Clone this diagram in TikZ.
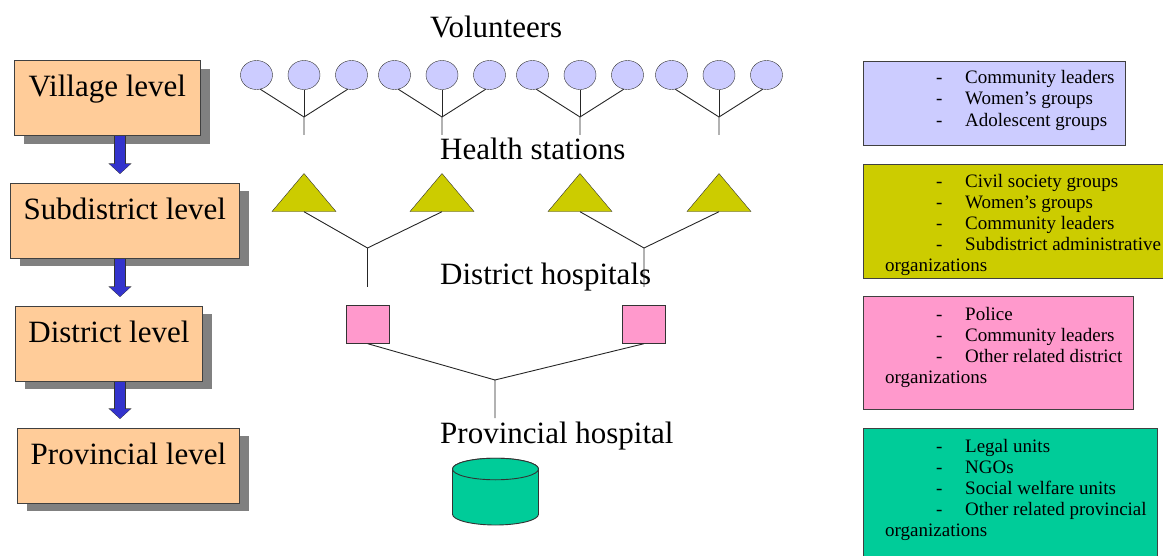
\documentclass[tikz,border=0pt]{standalone}
\usepackage{fontspec}
\setmainfont{Liberation Serif}
\usetikzlibrary{shapes.geometric,shadows,arrows.meta,positioning}
\definecolor{levelpeach}{RGB}{255,204,153}
\definecolor{volblue}{RGB}{204,204,255}
\definecolor{stationolive}{RGB}{204,204,0}
\definecolor{districtpink}{RGB}{255,153,204}
\definecolor{provgreen}{RGB}{0,204,153}
\definecolor{flowblue}{RGB}{51,51,204}
\definecolor{shadowgray}{RGB}{128,128,128}
\newcommand{\dashitem}[1]{\makebox[80pt][l]{\hspace{51pt}-}#1}

\begin{document}
\begin{tikzpicture}[x=1pt,y=-1pt,
	level/.style={rectangle,draw=black!75,fill=levelpeach,line width=0.8pt,anchor=north west,minimum height=75pt,inner sep=0pt,text height=36pt,text depth=39pt,font=\fontsize{31}{36}\selectfont,drop shadow={shadow xshift=10pt,shadow yshift=-8pt,fill=shadowgray,opacity=1}},
	flow/.style={draw=flowblue,line width=10pt,-{Triangle[length=9.5pt,width=20pt]},shorten >=9.5pt,
		preaction={draw=black!80,line width=11.6pt,-{Triangle[length=10.6pt,width=22.4pt]},shorten >=9pt}},
	tier/.style={anchor=base west,inner sep=0pt,font=\fontsize{31}{36}\selectfont},
	vol/.style={ellipse,draw=black!80,fill=volblue,minimum width=32pt,minimum height=29pt,inner sep=0pt},
	station/.style={isosceles triangle,shape border rotate=90,isosceles triangle stretches,minimum width=64pt,minimum height=38pt,inner sep=0pt,draw=black!80,fill=stationolive,anchor=apex},
	hosp/.style={rectangle,draw=black!80,fill=districtpink,minimum width=43pt,minimum height=38pt,inner sep=0pt},
	prov/.style={draw=black!80,fill=provgreen,line width=0.9pt},
	link/.style={draw=black!85,line width=0.9pt},
	infobox/.style={rectangle,draw=black!75,line width=0.8pt,anchor=north west,inner sep=0pt},
	infotext/.style={anchor=north west,inner sep=0pt,align=left,font=\fontsize{19}{21.2}\selectfont}
]
	\useasboundingbox (0,0) rectangle (1163,556);
	\clip (0,0) rectangle (1163,556);

	% levels on the left
	\node[level,minimum width=186pt] (village) at (14,60.5) {Village level};
	\node[level,minimum width=229pt] (subdistrict) at (10,183) {Subdistrict level};
	\node[level,minimum width=187pt] (district) at (15,306) {District level};
	\node[level,minimum width=222pt] (provincial) at (17,428) {Provincial level};
	\coordinate (spine) at (120,0);
	\draw[flow] (village.south -| spine) -- (subdistrict.north -| spine);
	\draw[flow] (subdistrict.south -| spine) -- (district.north -| spine);
	\draw[flow] (district.south -| spine) -- (provincial.north -| spine);

	% titles
	\node[tier] (voltitle) at (430,37.7) {Volunteers};
	\node[tier] (stationtitle) at (440,159.3) {Health stations};
	\node[tier] (hosptitle) at (440,285) {District hospitals};
	\node[tier] (provtitle) at (440,443) {Provincial hospital};

	% volunteers to health stations
	\foreach \g/\x in {1/304,2/442,3/580,4/719}{
		\node[vol] (v\g l) at (\x-47.5,75) {};
		\node[vol] (v\g m) at (\x,75) {};
		\node[vol] (v\g r) at (\x+47.5,75) {};
		\coordinate (j\g) at (\x,117);
		\coordinate (h\g) at (\x,135);
		\draw[link] (v\g l.-75) -- (j\g) -- (h\g);
		\draw[link] (v\g m) -- (j\g);
		\draw[link] (v\g r.-105) -- (j\g);
		\node[station] (t\g) at (\x,173) {};
	}

	% health stations to district hospitals
	\coordinate (k1) at (367.5,248);
	\coordinate (k2) at (644,248);
	\draw[link] (t1.lower side) -- (k1) -- (367.5,287);
	\draw[link] (t2.lower side) -- (k1);
	\draw[link] (t3.lower side) -- (k2) -- (644,287);
	\draw[link] (t4.lower side) -- (k2);

	% district hospitals to provincial hospital
	\node[hosp] (d1) at (367.7,324.5) {};
	\node[hosp] (d2) at (644,324.5) {};
	\coordinate (m) at (495,380);
	\draw[link] (d1.south) -- (m) -- (495,418);
	\draw[link] (d2.south) -- (m);

	% provincial hospital drum
	\coordinate (ph) at (495.5,469);
	\draw[prov] (ph) ++(-43,0) -- ++(0,45.2) arc[start angle=180,end angle=0,x radius=43,y radius=10.8] -- ++(0,-45.2) arc[start angle=0,end angle=-180,x radius=43,y radius=10.8] -- cycle;
	\draw[prov] (ph) ellipse[x radius=43,y radius=10.8];

	% partners on the right
	\node[infobox,fill=volblue,minimum width=262pt,minimum height=84pt] (volbox) at (863,61) {};
	\node[infotext] (voltext) at (885,70.3) {\dashitem{Community leaders}\\ \dashitem{Women’s groups}\\ \dashitem{Adolescent groups}};
	\node[infobox,fill=stationolive,minimum width=320pt,minimum height=114pt] (stationbox) at (863,164) {};
	\node[infotext] (stationtext) at (885,173.7) {\dashitem{Civil society groups}\\ \dashitem{Women’s groups}\\ \dashitem{Community leaders}\\ \dashitem{Subdistrict administrative}\\ organizations};
	\node[infobox,fill=districtpink,minimum width=270pt,minimum height=113pt] (hospbox) at (863,296) {};
	\node[infotext] (hosptext) at (885,307) {\dashitem{Police}\\ \dashitem{Community leaders}\\ \dashitem{Other related district}\\ organizations};
	\node[infobox,fill=provgreen,minimum width=294pt,minimum height=140pt] (provbox) at (863,428) {};
	\node[infotext] (provtext) at (885,438.7) {\dashitem{Legal units}\\ \dashitem{NGOs}\\ \dashitem{Social welfare units}\\ \dashitem{Other related provincial}\\ organizations};
\end{tikzpicture}
\end{document}
